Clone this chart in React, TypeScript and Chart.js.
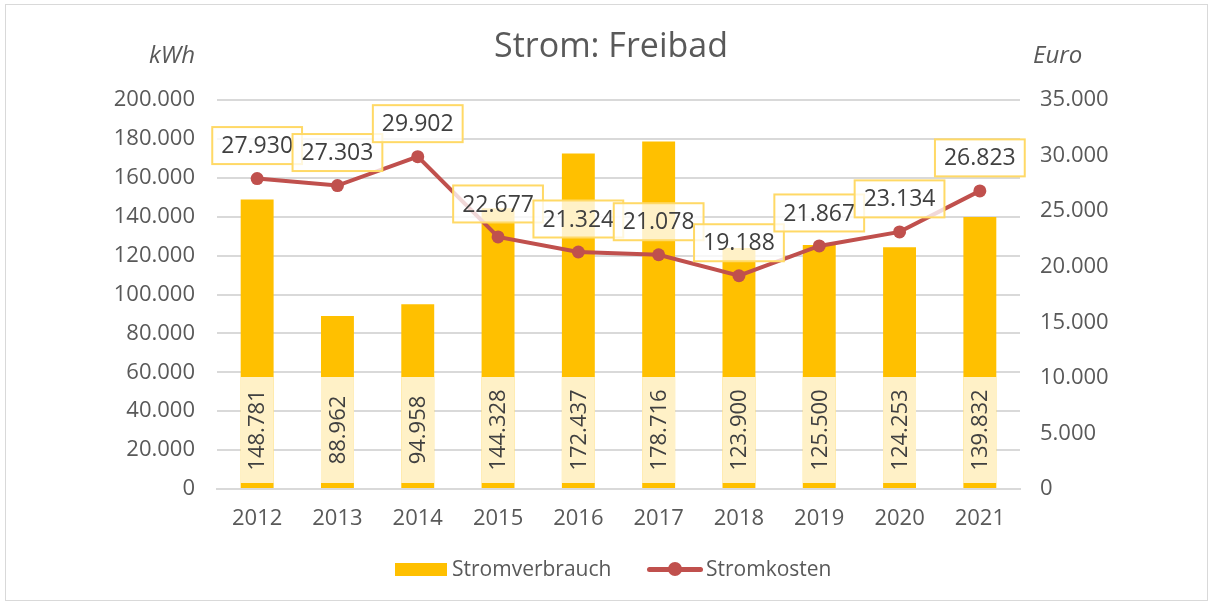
import React, { useEffect, useRef } from "react";
import { Chart, registerables } from "chart.js";

Chart.register(...registerables);

const years = ["2012", "2013", "2014", "2015", "2016", "2017", "2018", "2019", "2020", "2021"];
const verbrauch = [148781, 88962, 94958, 144328, 172437, 178716, 123900, 125500, 124253, 139832];
const kosten = [27930, 27303, 29902, 22677, 21324, 21078, 19188, 21867, 23134, 26823];
const leftTicks = [0, 20000, 40000, 60000, 80000, 100000, 120000, 140000, 160000, 180000, 200000];
const rightTicks = [0, 5000, 10000, 15000, 20000, 25000, 30000, 35000];

const FONT = "'Open Sans', 'Noto Sans', sans-serif";
const fmt = (v: number) => v.toLocaleString("de-DE");

const labelPlugin = {
  id: "labels",
  afterDatasetsDraw(chart: any) {
    const ctx = chart.ctx;
    ctx.save();
    const barMeta = chart.getDatasetMeta(0);
    barMeta.data.forEach((el: any, i: number) => {
      const w = el.width;
      const base = el.base;
      ctx.fillStyle = "rgba(255,255,255,0.78)";
      ctx.fillRect(el.x - w / 2, base - 111, w, 106);
      ctx.save();
      ctx.translate(el.x, base - 58);
      ctx.rotate(-Math.PI / 2);
      ctx.fillStyle = "#404040";
      ctx.font = `22px ${FONT}`;
      ctx.textAlign = "center";
      ctx.textBaseline = "middle";
      ctx.fillText(fmt(verbrauch[i]), 0, 1);
      ctx.restore();
    });
    const lineMeta = chart.getDatasetMeta(1);
    ctx.font = `23px ${FONT}`;
    lineMeta.data.forEach((el: any, i: number) => {
      const t = fmt(kosten[i]);
      const tw = ctx.measureText(t).width;
      const bw = tw + 18;
      const bh = 37;
      const cx = el.x;
      const cy = el.y - 33;
      ctx.fillStyle = "rgba(255,255,255,0.78)";
      ctx.fillRect(cx - bw / 2, cy - bh / 2, bw, bh);
      ctx.strokeStyle = "#FFD966";
      ctx.lineWidth = 2;
      ctx.strokeRect(cx - bw / 2, cy - bh / 2, bw, bh);
      ctx.fillStyle = "#404040";
      ctx.textAlign = "center";
      ctx.textBaseline = "middle";
      ctx.fillText(t, cx, cy + 1);
    });
    ctx.restore();
  },
};

export default function App() {
  const ref = useRef<HTMLCanvasElement>(null);
  useEffect(() => {
    if (!ref.current) return;
    const chart = new Chart(ref.current, {
      type: "bar",
      data: {
        labels: years,
        datasets: [
          {
            type: "bar",
            label: "Stromverbrauch",
            data: verbrauch,
            backgroundColor: "#FFC000",
            yAxisID: "y",
            order: 2,
            categoryPercentage: 1,
            barPercentage: 0.41,
          },
          {
            type: "line",
            label: "Stromkosten",
            data: kosten,
            borderColor: "#C0504D",
            backgroundColor: "#C0504D",
            borderWidth: 4,
            pointRadius: 6.5,
            pointBackgroundColor: "#C0504D",
            pointBorderWidth: 0,
            yAxisID: "y1",
            order: 1,
            tension: 0,
          } as any,
        ],
      },
      options: {
        responsive: false,
        animation: false,
        layout: { padding: { top: 100, bottom: 0, left: 0, right: 0 } },
        plugins: { legend: { display: false }, tooltip: { enabled: false }, title: { display: false } },
        scales: {
          x: {
            grid: { display: false, drawTicks: false },
            border: { display: true, color: "#D9D9D9", width: 2 },
            ticks: { color: "#595959", font: { size: 22, family: FONT }, padding: 17 },
            afterFit: (s: any) => { s.height = 116; },
          },
          y: {
            position: "left",
            min: 0,
            max: 200000,
            afterBuildTicks: (s: any) => { s.ticks = leftTicks.map((v) => ({ value: v })); },
            grid: { color: "#D9D9D9", lineWidth: 2, drawTicks: false },
            border: { display: false },
            ticks: { color: "#595959", font: { size: 22, family: FONT }, padding: 22, callback: (v: any) => fmt(Number(v)) },
            afterFit: (s: any) => { s.width = 217; },
          },
          y1: {
            position: "right",
            min: 0,
            max: 35000,
            afterBuildTicks: (s: any) => { s.ticks = rightTicks.map((v) => ({ value: v })); },
            grid: { display: false, drawTicks: false },
            border: { display: false },
            ticks: { color: "#595959", font: { size: 22, family: FONT }, padding: 20, callback: (v: any) => fmt(Number(v)) },
            afterFit: (s: any) => { s.width = 192; },
          },
        },
      },
      plugins: [labelPlugin],
    });
    return () => chart.destroy();
  }, []);

  const text: React.CSSProperties = { position: "absolute", fontFamily: FONT, color: "#595959", whiteSpace: "nowrap", lineHeight: 1 };
  return (
    <div style={{ position: "absolute", left: 0, top: 0, width: 1212, height: 605, background: "#fff" }}>
      <div style={{ position: "absolute", left: 5, top: 4, width: 1201, height: 595, border: "1px solid #D9D9D9" }} />
      <canvas ref={ref} width={1212} height={605} style={{ position: "absolute", left: 0, top: 0, width: 1212, height: 605 }} />
      <div style={{ ...text, left: 0, width: 1222, top: 27, textAlign: "center", fontSize: 34 }}>Strom: Freibad</div>
      <div style={{ ...text, left: 149, top: 42, fontSize: 24, fontStyle: "italic" }}>kWh</div>
      <div style={{ ...text, left: 1033, top: 42, fontSize: 24, fontStyle: "italic" }}>Euro</div>
      <div style={{ position: "absolute", left: 395, top: 563, width: 52, height: 13, background: "#FFC000" }} />
      <div style={{ ...text, left: 452, top: 558, fontSize: 21 }}>Stromverbrauch</div>
      <div style={{ position: "absolute", left: 647, top: 567, width: 56, height: 5, borderRadius: 3, background: "#C0504D" }} />
      <div style={{ position: "absolute", left: 668, top: 562, width: 14, height: 14, borderRadius: 7, background: "#C0504D" }} />
      <div style={{ ...text, left: 706, top: 558, fontSize: 21 }}>Stromkosten</div>
    </div>
  );
}
